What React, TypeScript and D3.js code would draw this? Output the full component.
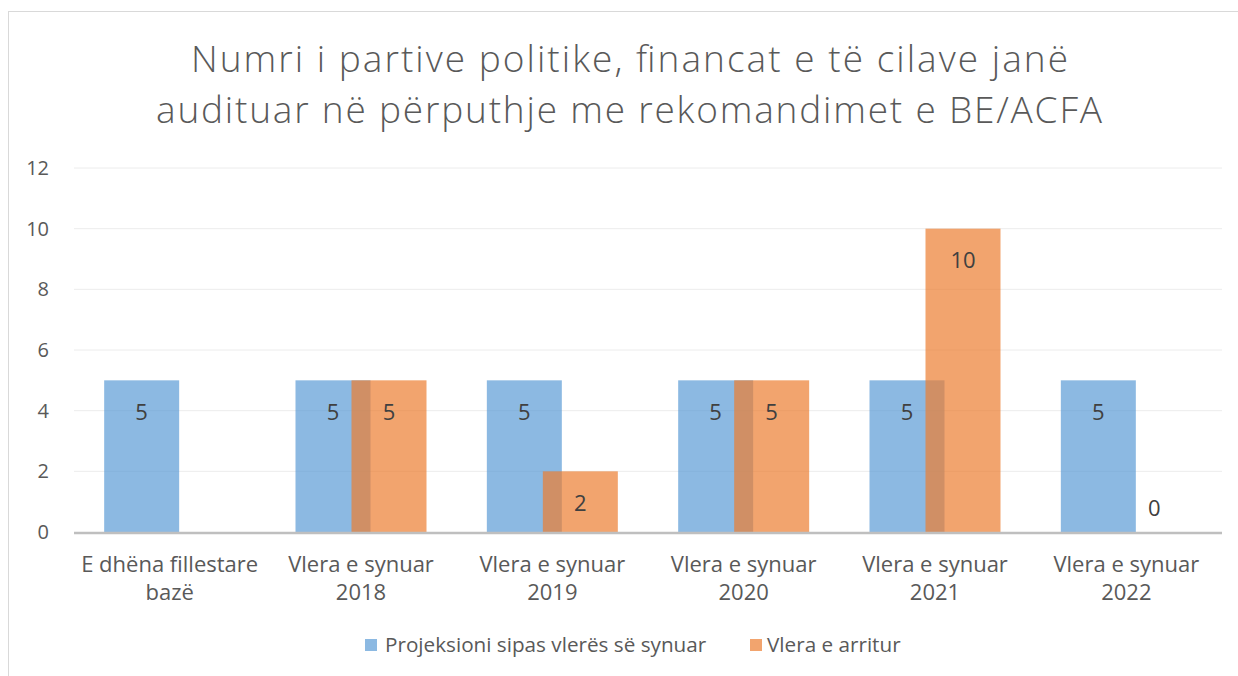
import React from "react";
import * as d3 from "d3";

const categories = [
  ["E dhëna fillestare", "bazë"],
  ["Vlera e synuar", "2018"],
  ["Vlera e synuar", "2019"],
  ["Vlera e synuar", "2020"],
  ["Vlera e synuar", "2021"],
  ["Vlera e synuar", "2022"],
];
const projeksioni: (number | null)[] = [5, 5, 5, 5, 5, 5];
const arritur: (number | null)[] = [null, 5, 2, 5, 10, 0];
const yTicks = [0, 2, 4, 6, 8, 10, 12];
const titleLines = [
  "Numri i partive politike, financat e të cilave janë",
  "auditu" + "ar në përputhje me rekomandimet e BE/ACFA",
];
const seriesNames = ["Projeksioni sipas vlerës së synuar", "Vlera e arritur"];

const W = 1238;
const H = 676;
const FONT = "'Open Sans', sans-serif";
const TXT = "#595959";
const BLUE = "#5B9BD5";
const ORANGE = "#ED7D31";

export default function App() {
  const left = 74, right = 1222, top = 168, bottom = 532;
  const x = d3.scaleBand<number>().domain(categories.map((_, i) => i)).range([left, right]);
  const y = d3.scaleLinear().domain([0, 12]).range([bottom, top]);
  const barW = 75;
  const offset = 56;
  const groupW = barW + offset;
  const bx = (i: number, s: number) => (x(i) as number) + x.bandwidth() / 2 - groupW / 2 + s * offset;
  const series = [projeksioni, arritur];
  const colors = [BLUE, ORANGE];
  const titleSpans = [
    { x: 191, len: 877, y: 72 },
    { x: 156, len: 946, y: 123 },
  ];
  return (
    <svg width={W} height={H} style={{ position: "absolute", left: 0, top: 0 }} fontFamily={FONT}>
      <rect x={8.5} y={11.5} width={W} height={H} fill="#fff" stroke="#d9d9d9" strokeWidth={1} />
      {titleLines.map((t, i) => (
        <text key={i} x={titleSpans[i].x} y={titleSpans[i].y} textLength={titleSpans[i].len} lengthAdjust="spacing" fontSize={37} fontWeight={300} fill={TXT}>
          {t}
        </text>
      ))}
      {yTicks.map((t) => (
        <g key={t}>
          {t > 0 && <line x1={left} x2={right} y1={y(t)} y2={y(t)} stroke="#ececec" strokeWidth={1} />}
          <text x={49} y={y(t)} dy="0.35em" textAnchor="end" fontSize={20} fill={TXT}>{t}</text>
        </g>
      ))}
      {series.map((vals, s) =>
        vals.map((v, i) =>
          v === null ? null : (
            <rect key={`${s}-${i}`} x={bx(i, s)} y={y(v)} width={barW} height={y(0) - y(v)} fill={colors[s]} fillOpacity={0.7} />
          )
        )
      )}
      <line x1={left} x2={right} y1={bottom + 1} y2={bottom + 1} stroke="#bfbfbf" strokeWidth={2.5} />
      {series.map((vals, s) =>
        vals.map((v, i) =>
          v === null ? null : (
            <text key={`l${s}-${i}`} x={bx(i, s) + barW / 2} y={v === 0 ? y(0) - 24 : y(v) + 32} dy="0.35em" textAnchor="middle" fontSize={22} fill="#404040">
              {v}
            </text>
          )
        )
      )}
      {categories.map((c, i) => (
        <text key={i} x={(x(i) as number) + x.bandwidth() / 2} y={572} textAnchor="middle" fontSize={22} fill={TXT}>
          {c.map((l, j) => (
            <tspan key={j} x={(x(i) as number) + x.bandwidth() / 2} dy={j === 0 ? 0 : 28}>{l}</tspan>
          ))}
        </text>
      ))}
      <rect x={365} y={639} width={12} height={12} fill={BLUE} fillOpacity={0.7} />
      <text x={385} y={652} fontSize={20.7} fill={TXT}>{seriesNames[0]}</text>
      <rect x={750} y={639} width={12} height={12} fill={ORANGE} fillOpacity={0.7} />
      <text x={767} y={652} fontSize={20.7} fill={TXT}>{seriesNames[1]}</text>
    </svg>
  );
}
